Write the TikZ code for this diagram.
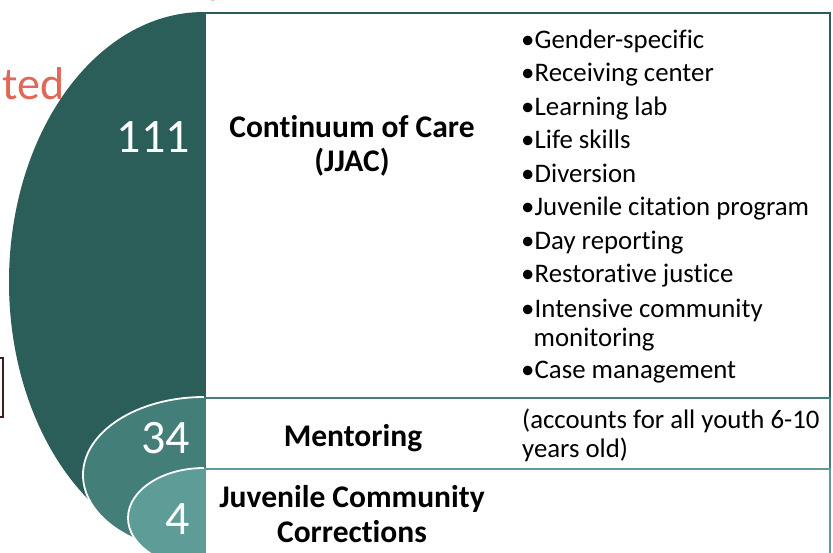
\documentclass[tikz,border=0pt]{standalone}
\usepackage{fontspec}
\setmainfont{Carlito}[Ligatures={NoCommon,NoRare,NoContextual}]
\usetikzlibrary{positioning}
\definecolor{tealdark}{RGB}{44,94,89}
\definecolor{tealmid}{RGB}{67,126,120}
\definecolor{teallight}{RGB}{94,157,151}
\definecolor{salmon}{RGB}{224,104,88}
\definecolor{brownline}{RGB}{60,32,32}
\tikzset{
	count/.style={text=white,font=\fontsize{48}{48}\selectfont,anchor=base east,inner sep=0pt},
	boxtitle/.style={font=\fontsize{31.5}{34.5}\selectfont\bfseries,align=center},
	bullet/.style={font=\fontsize{26.8}{29}\selectfont,anchor=base west,inner sep=0pt},
	levelbox/.style={minimum width=625pt,anchor=north west,inner sep=0pt,line width=2pt},
}
\begin{document}
\begin{tikzpicture}[x=1pt,y=-1pt]
	\useasboundingbox (0,0) rectangle (833,553);
	\clip (0,0) rectangle (833,553);
	% nested half ellipses
	\fill[tealdark] (204,12) arc[start angle=90,end angle=270,x radius=195pt,y radius=270pt] -- cycle;
	\fill[tealmid] (204,397) arc[start angle=90,end angle=270,x radius=121pt,y radius=78pt] -- cycle;
	\draw[white,line width=1.8pt] (204,397) arc[start angle=90,end angle=270,x radius=121pt,y radius=78pt];
	\fill[teallight] (204,468) arc[start angle=90,end angle=270,x radius=76pt,y radius=50pt] -- cycle;
	\draw[white,line width=1.8pt] (204,468) arc[start angle=90,end angle=270,x radius=76pt,y radius=50pt];
	% boxes
	\node[levelbox,draw=tealdark,minimum height=385pt] (carebox) at (204,12) {};
	\node[levelbox,draw=tealmid,minimum height=71pt] (mentorbox) at (204,397) {};
	\node[levelbox,draw=teallight,minimum height=100pt] (jccbox) at (204,468) {};
	% counts
	\node[count] (n111) at (190,153) {111};
	\node[count] (n34) at (190,453) {34};
	\node[count] (n4) at (190,534) {4};
	% titles
	\node[boxtitle] (caretitle) at (352,146) {Continuum of Care\\(JJAC)};
	\node[boxtitle] (mentortitle) at (353,438) {Mentoring};
	\node[boxtitle] (jcctitle) at (352,514) {Juvenile Community\\Corrections};
	% program list
	\foreach \y/\txt [count=\i] in {48.5/Gender-specific,82/Receiving center,115.5/Learning lab,149/Life skills,182.5/Diversion,216/Juvenile citation program,249.5/Day reporting,283/Restorative justice,317.5/Intensive community,378.5/Case management}
		\node[bullet] (item\i) at (521,\y) {\makebox[13.5pt][l]{•}\txt};
	\node[bullet] (item9b) at (533.5,347) {monitoring};
	\node[bullet,align=left] (mentornote) at (522,457.5) {(accounts for all youth 6-10\\years old)};
	% cut off parts at the edges
	\node[font=\fontsize{46}{46}\selectfont,text=salmon,anchor=base east,inner sep=0pt] (tedtext) at (65,100) {ted};
	\node[font=\fontsize{46}{46}\selectfont,text=salmon,anchor=base west,inner sep=0pt] (ytext) at (206,-6) {y};
	\draw[brownline,line width=2pt] (-5,358) -- (2.5,358) -- (2.5,417) -- (-5,417);
\end{tikzpicture}
\end{document}
